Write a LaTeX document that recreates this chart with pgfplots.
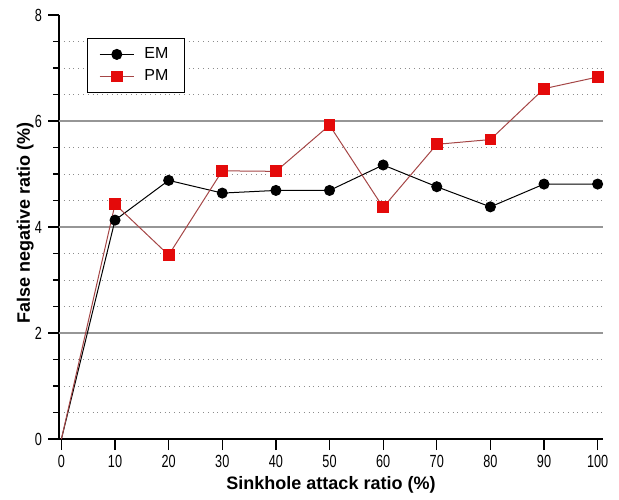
\documentclass[border=0pt]{standalone}
\usepackage{fontspec}
\setmainfont{Liberation Sans}
\usepackage{graphicx}
\usepackage{pgfplots}
\pgfplotsset{compat=1.18}
\definecolor{pmred}{RGB}{228,10,10}
\definecolor{pmline}{RGB}{165,70,70}
\definecolor{gridgray}{RGB}{150,150,150}
\definecolor{dotgray}{RGB}{140,140,140}
\begin{document}
\begin{tikzpicture}
\begin{axis}[
  name=ax,
  scale only axis,
  width=272pt, height=212pt,
  xmin=-0.45, xmax=101, ymin=0, ymax=8,
  axis x line*=bottom, axis y line*=left,
  axis line style={black, line width=0.6pt, -},
  xtick={0,10,...,100},
  ytick={0,2,4,6,8},
  minor ytick={0.5,1,1.5,2.5,3,3.5,4.5,5,5.5,6.5,7,7.5},
  extra y ticks={2,4,6},
  extra y tick labels={},
  extra y tick style={grid=major, major grid style={gridgray, line width=0.6pt}},
  yminorgrids,
  minor grid style={dotgray, dotted, line width=0.5pt},
  tick align=outside,
  major tick length=5.5pt,
  minor tick length=3pt,
  tick style={black, line width=0.6pt},
  /pgf/number format/assume math mode=true,
  xticklabel={\scalebox{0.72}[1]{\pgfmathprintnumber{\tick}}},
  yticklabel={\scalebox{0.72}[1]{\pgfmathprintnumber{\tick}}},
  tick label style={font=\fontsize{8.8}{9}\selectfont},
  xticklabel style={yshift=1pt},
  yticklabel style={xshift=0.5pt},
  xlabel={\bfseries Sinkhole attack ratio (\%)},
  ylabel={\bfseries False negative ratio (\%)},
  label style={font=\fontsize{9}{10}\selectfont},
  xlabel style={at={(axis description cs:0.5,-0.107)}, anchor=center},
  ylabel style={at={(axis description cs:-0.062,0.51)}, anchor=center},
  legend style={at={(rel axis cs:0.051,0.946)}, anchor=north west,
    draw=black, line width=0.5pt, font=\fontsize{8}{8}\selectfont,
    inner xsep=6pt, inner ysep=2.5pt, row sep=0pt,
    /tikz/every odd column/.append style={column sep=3pt}},
  legend cell align=left,
  clip=false,
]
\addplot[black, line width=0.5pt, forget plot] coordinates {(0,0) (10,4.13)};
\addplot[pmline, line width=0.5pt, forget plot] coordinates {(0,0) (10,4.43)};
\addplot[black, line width=0.5pt, mark=*, mark size=2.5pt, mark options={fill=black}]
coordinates {(10,4.13) (20,4.88) (30,4.64) (40,4.69) (50,4.69) (60,5.17) (70,4.76) (80,4.38) (90,4.81) (100,4.81)};
\addlegendentry{EM\hspace{6pt}}
\addplot[pmline, line width=0.5pt, mark=square*, mark size=2.7pt, mark options={fill=pmred, draw=pmred}]
coordinates {(10,4.43) (20,3.47) (30,5.06) (40,5.05) (50,5.92) (60,4.37) (70,5.56) (80,5.65) (90,6.61) (100,6.83)};
\addlegendentry{PM\hspace{6pt}}
\end{axis}
\path (ax.south west) ++(-29.5pt,-28pt) coordinate (bl);
\path (ax.north east) ++(8pt,7.5pt) coordinate (tr);
\path (bl) rectangle (tr);
\end{tikzpicture}
\end{document}
